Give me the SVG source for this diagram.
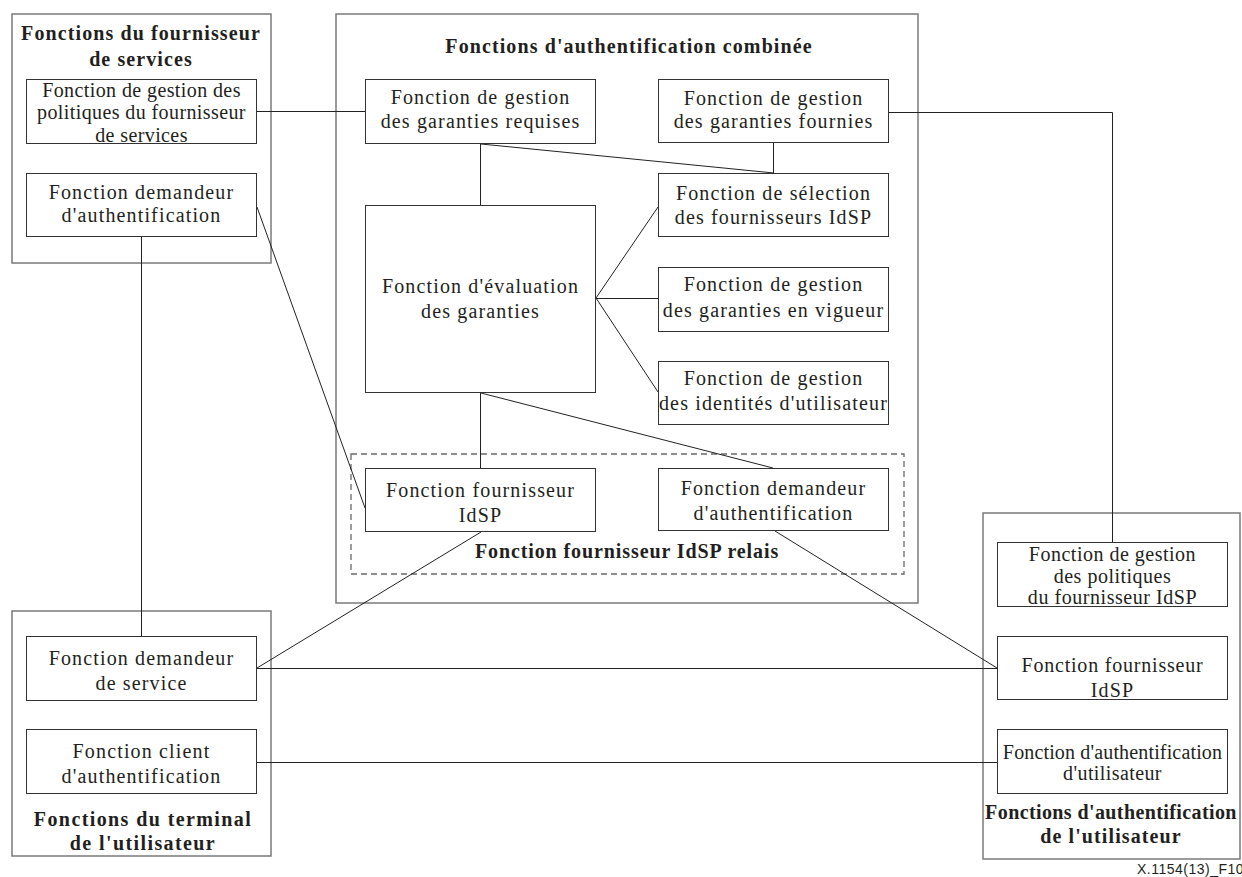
<svg xmlns="http://www.w3.org/2000/svg" width="1242" height="877" viewBox="0 0 1242 877">
  <style>
    .outer { fill: none; stroke: #7a7a7a; stroke-width: 1.5; }
    .box { fill: #ffffff; stroke: #333333; stroke-width: 1; }
    .relay { fill: none; stroke: #6a6a6a; stroke-width: 1.3; stroke-dasharray: 6 4; }
    .conn { fill: none; stroke: #222222; stroke-width: 1; }
    .t { font-family: "Liberation Serif", "Times New Roman", serif; font-size: 20px; fill: #231f20; text-anchor: middle; letter-spacing: 1.15px; }
    .b { font-family: "Liberation Serif", "Times New Roman", serif; font-size: 20px; font-weight: bold; fill: #231f20; text-anchor: middle; letter-spacing: 1.1px; }
    .ref { font-family: "Liberation Sans", Arial, sans-serif; font-size: 14px; fill: #231f20; letter-spacing: 0.5px; }
  </style>

  <rect width="1242" height="877" fill="#ffffff"/>

  <!-- group frames -->
  <g id="service-provider-functions">
    <rect class="outer" x="12" y="14" width="259" height="249"/>
    <text class="b" x="141" y="40">Fonctions du fournisseur</text>
    <text class="b" x="141" y="66">de services</text>
  </g>
  <g id="combined-authentication-functions">
    <rect class="outer" x="336" y="14" width="582" height="589"/>
    <text class="b" x="629" y="53">Fonctions d'authentification combinée</text>
  </g>
  <g id="user-terminal-functions">
    <rect class="outer" x="12" y="611" width="259" height="245"/>
    <text class="b" x="143" y="826" style="letter-spacing:1.4px">Fonctions du terminal</text>
    <text class="b" x="143" y="850" style="letter-spacing:1.4px">de l'utilisateur</text>
  </g>
  <g id="user-authentication-functions">
    <rect class="outer" x="983" y="513" width="257" height="346"/>
    <text class="b" x="1111" y="819" style="letter-spacing:0.4px">Fonctions d'authentification</text>
    <text class="b" x="1111" y="843">de l'utilisateur</text>
  </g>
  <g id="relay-idsp">
    <rect class="relay" x="351" y="454" width="553" height="120"/>
    <text class="b" x="627" y="558" style="letter-spacing:0.9px">Fonction fournisseur IdSP relais</text>
  </g>

  <!-- connectors -->
  <g id="connectors">
    <path class="conn" d="M257,111.5 H365"/>
    <path class="conn" d="M889,112.5 H1112.5 V542"/>
    <path class="conn" d="M480.5,144 V205"/>
    <path class="conn" d="M481,144 L774,173"/>
    <path class="conn" d="M773.5,143 V173"/>
    <path class="conn" d="M596,298 L658,207"/>
    <path class="conn" d="M596,298.5 H658"/>
    <path class="conn" d="M596,298 L658,392"/>
    <path class="conn" d="M480.5,393 V468"/>
    <path class="conn" d="M481,393 L773,468"/>
    <path class="conn" d="M257,207 L365,508"/>
    <path class="conn" d="M141.5,237 V636"/>
    <path class="conn" d="M481,532 L257,668"/>
    <path class="conn" d="M257,668.5 H997"/>
    <path class="conn" d="M775,531 L997,668"/>
    <path class="conn" d="M257,762.5 H997"/>
  </g>

  <!-- service provider -->
  <g id="sp-policy-management">
    <rect class="box" x="26.5" y="79.5" width="230" height="64"/>
    <text class="t" x="141.5" y="97" style="letter-spacing:0.4px">Fonction de gestion des</text>
    <text class="t" x="141.5" y="119" style="letter-spacing:0.4px">politiques du fournisseur</text>
    <text class="t" x="141.5" y="142" style="letter-spacing:0.4px">de services</text>
  </g>
  <g id="sp-authentication-requester">
    <rect class="box" x="26.5" y="173.5" width="230" height="63"/>
    <text class="t" x="141.5" y="199">Fonction demandeur</text>
    <text class="t" x="141.5" y="222">d'authentification</text>
  </g>

  <!-- combined authentication -->
  <g id="required-assurance-management">
    <rect class="box" x="365.5" y="79.5" width="230" height="64"/>
    <text class="t" x="480.5" y="104">Fonction de gestion</text>
    <text class="t" x="480.5" y="128">des garanties requises</text>
  </g>
  <g id="provided-assurance-management">
    <rect class="box" x="658.5" y="79.5" width="230" height="63"/>
    <text class="t" x="773.5" y="105">Fonction de gestion</text>
    <text class="t" x="773.5" y="128">des garanties fournies</text>
  </g>
  <g id="idsp-selection">
    <rect class="box" x="658.5" y="173.5" width="230" height="63"/>
    <text class="t" x="773.5" y="200">Fonction de sélection</text>
    <text class="t" x="773.5" y="224">des fournisseurs IdSP</text>
  </g>
  <g id="assurance-evaluation">
    <rect class="box" x="365.5" y="205.5" width="230" height="187"/>
    <text class="t" x="480.5" y="293">Fonction d'évaluation</text>
    <text class="t" x="480.5" y="318">des garanties</text>
  </g>
  <g id="current-assurance-management">
    <rect class="box" x="658.5" y="267.5" width="230" height="64"/>
    <text class="t" x="773.5" y="291">Fonction de gestion</text>
    <text class="t" x="773.5" y="317">des garanties en vigueur</text>
  </g>
  <g id="user-identity-management">
    <rect class="box" x="658.5" y="361.5" width="230" height="63"/>
    <text class="t" x="773.5" y="385">Fonction de gestion</text>
    <text class="t" x="773.5" y="410">des identités d'utilisateur</text>
  </g>
  <g id="relay-idsp-provider">
    <rect class="box" x="365.5" y="468.5" width="230" height="63"/>
    <text class="t" x="480.5" y="497">Fonction fournisseur</text>
    <text class="t" x="480.5" y="522">IdSP</text>
  </g>
  <g id="relay-authentication-requester">
    <rect class="box" x="658.5" y="468.5" width="230" height="62"/>
    <text class="t" x="773.5" y="495">Fonction demandeur</text>
    <text class="t" x="773.5" y="520">d'authentification</text>
  </g>

  <!-- user terminal -->
  <g id="service-requester">
    <rect class="box" x="26.5" y="636.5" width="230" height="64"/>
    <text class="t" x="141.5" y="665">Fonction demandeur</text>
    <text class="t" x="141.5" y="690">de service</text>
  </g>
  <g id="authentication-client">
    <rect class="box" x="26.5" y="729.5" width="230" height="64"/>
    <text class="t" x="141.5" y="758">Fonction client</text>
    <text class="t" x="141.5" y="783">d'authentification</text>
  </g>

  <!-- user authentication -->
  <g id="idsp-policy-management">
    <rect class="box" x="997.5" y="542.5" width="230" height="64"/>
    <text class="t" x="1112.5" y="561" style="letter-spacing:0.5px">Fonction de gestion</text>
    <text class="t" x="1112.5" y="583" style="letter-spacing:0.5px">des politiques</text>
    <text class="t" x="1112.5" y="604" style="letter-spacing:0.55px">du fournisseur IdSP</text>
  </g>
  <g id="idsp-provider">
    <rect class="box" x="997.5" y="636.5" width="230" height="63"/>
    <text class="t" x="1112.5" y="672" style="letter-spacing:0.8px">Fonction fournisseur</text>
    <text class="t" x="1112.5" y="697">IdSP</text>
  </g>
  <g id="user-authentication">
    <rect class="box" x="997.5" y="729.5" width="230" height="64"/>
    <text class="t" x="1112.5" y="759" style="letter-spacing:0.15px">Fonction d'authentification</text>
    <text class="t" x="1112.5" y="780" style="letter-spacing:0.4px">d'utilisateur</text>
  </g>

  <text class="ref" x="1137" y="874">X.1154(13)_F10</text>
</svg>
